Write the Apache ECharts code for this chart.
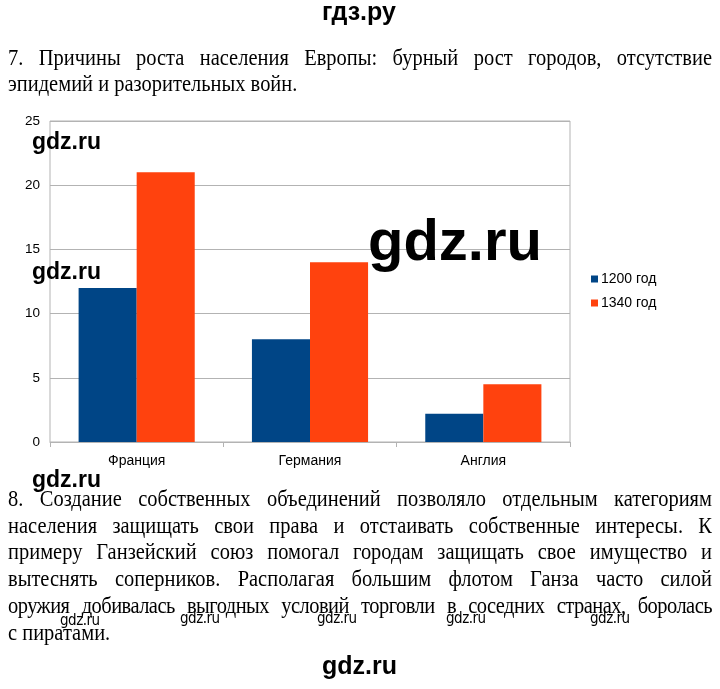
<!DOCTYPE html>
<html>
<head>
<meta charset="utf-8">
<script src="https://cdn.jsdelivr.net/npm/echarts@6/dist/echarts.min.js"></script>
<style>
    body { margin: 0; background: #fff; }
    #page { position: relative; width: 720px; height: 689px; overflow: hidden; background: #fff; }
    #main { position: absolute; left: 0; top: 0; width: 720px; height: 689px; }
    .txt { position: absolute; left: 8px; width: 791px; transform: scaleX(0.89); transform-origin: 0 0;
           font-family: "Liberation Serif", "Times New Roman", serif;
           font-size: 23px; line-height: 26px; color: #000; }
    .txt div { white-space: nowrap; text-align: justify; text-align-last: justify; }
    .txt div.last { text-align-last: left; }
    .wm { position: absolute; font-family: "Liberation Sans", Arial, sans-serif; font-weight: bold; color: #000; white-space: nowrap; }
    .wm-small { position: absolute; font-family: "DejaVu Sans Condensed", "Liberation Sans", sans-serif; font-size: 15px;
                color: #000; white-space: nowrap; letter-spacing: -0.5px; }
</style>
</head>
<body>
<div id="page">
    <div id="main"></div>

    <div class="wm" style="left:322px; top:-3px; font-size:25px;">гдз.ру</div>

    <div class="txt" style="top:45px;">
        <div>7. Причины роста населения Европы: бурный рост городов, отсутствие</div>
        <div class="last">эпидемий и разорительных войн.</div>
    </div>

    <div class="wm" style="left:32px; top:128px; font-size:23px;">gdz.ru</div>
    <div class="wm" style="left:32px; top:258px; font-size:23px;">gdz.ru</div>
    <div class="wm" style="left:368px; top:206px; font-size:58px;">gdz.ru</div>
    <div class="wm" style="left:32px; top:466px; font-size:23px;">gdz.ru</div>

    <div class="txt" style="top:486px; line-height:26.7px;">
        <div>8. Создание собственных объединений позволяло отдельным категориям</div>
        <div>населения защищать свои права и отстаивать собственные интересы. К</div>
        <div>примеру Ганзейский союз помогал городам защищать свое имущество и</div>
        <div>вытеснять соперников. Располагая большим флотом Ганза часто силой</div>
        <div style="letter-spacing:-0.6px;">оружия добивалась выгодных условий торговли в соседних странах, боролась</div>
        <div class="last">с пиратами.</div>
    </div>

    <div class="wm-small" style="left:60px; top:611px;">gdz.ru</div>
    <div class="wm-small" style="left:180px; top:609px;">gdz.ru</div>
    <div class="wm-small" style="left:317px; top:609px;">gdz.ru</div>
    <div class="wm-small" style="left:446px; top:609px;">gdz.ru</div>
    <div class="wm-small" style="left:590px; top:609px;">gdz.ru</div>

    <div class="wm" style="left:322px; top:651px; font-size:25px;">gdz.ru</div>
</div>
<script>
var categories = ['Франция', 'Германия', 'Англия'];
var seriesNames = ['1200 год', '1340 год'];
var values1200 = [12, 8, 2.2];
var values1340 = [21, 14, 4.5];
var seriesColors = ['#004586', '#ff420e'];

var myChart = echarts.init(document.getElementById('main'));
var option = {
    animation: false,
    color: seriesColors,
    grid: {
        left: 50,
        right: 150,
        top: 121,
        bottom: 247,
        show: true,
        borderColor: '#b3b3b3',
        borderWidth: 1
    },
    legend: {
        orient: 'vertical',
        left: 591,
        top: 272,
        padding: 0,
        icon: 'rect',
        itemWidth: 7,
        itemHeight: 7,
        itemGap: 10,
        data: seriesNames,
        textStyle: {
            fontFamily: 'Liberation Sans, Arial, sans-serif',
            fontSize: 14,
            color: '#000',
            padding: [0, 0, 0, -2]
        }
    },
    xAxis: {
        type: 'category',
        data: categories,
        axisLine: { lineStyle: { color: '#b3b3b3' } },
        axisTick: { show: true, length: 5, lineStyle: { color: '#b3b3b3' } },
        axisLabel: {
            margin: 12,
            fontFamily: 'Liberation Sans, Arial, sans-serif',
            fontSize: 14,
            color: '#000'
        }
    },
    yAxis: {
        type: 'value',
        min: 0,
        max: 25,
        interval: 5,
        axisLine: { show: false },
        axisTick: { show: false },
        splitLine: { lineStyle: { color: '#b3b3b3' } },
        axisLabel: {
            margin: 10,
            fontFamily: 'Liberation Sans, Arial, sans-serif',
            fontSize: 13.5,
            color: '#000'
        }
    },
    series: [
        {
            name: seriesNames[0],
            type: 'bar',
            data: values1200,
            barGap: '0%',
            barCategoryGap: '33%'
        },
        {
            name: seriesNames[1],
            type: 'bar',
            data: values1340,
            barGap: '0%',
            barCategoryGap: '33%'
        }
    ]
};
myChart.setOption(option);
</script>
</body>
</html>
